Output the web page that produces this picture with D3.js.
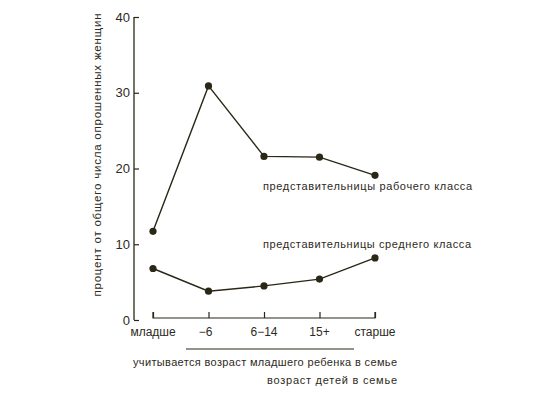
<!DOCTYPE html>
<html>
<head>
<meta charset="utf-8">
<script src="https://cdn.jsdelivr.net/npm/d3@7"></script>
<style>
  body { margin: 0; background: #fff; }
  text { font-family: "Liberation Sans", Arial, sans-serif; fill: #2e2a22; }
</style>
</head>
<body>
<div id="chart"></div>
<script>
var ages = ["младше", "\u22126", "6\u221214", "15+", "старше"];
var workingClass = [11.7, 30.9, 21.6, 21.5, 19.1];
var middleClass = [6.8, 3.8, 4.5, 5.4, 8.2];
var yTicks = [0, 10, 20, 30, 40];

var w = 554;
var h = 401;
var ink = "#2b2716";

var svg = d3.select("#chart").append("svg")
  .attr("width", w)
  .attr("height", h);

var x = d3.scalePoint()
  .domain(ages)
  .range([153, 375]);

var y = d3.scaleLinear()
  .domain([0, 40])
  .range([320, 17]);

// y axis
var yAxis = svg.append("g")
  .attr("transform", "translate(134,0)")
  .call(d3.axisLeft(y).tickValues(yTicks).tickSize(-5).tickPadding(3));
yAxis.select(".domain").remove();
yAxis.selectAll("line").attr("stroke", ink).attr("stroke-width", 1.2);
yAxis.selectAll("text")
  .attr("font-size", 13)
  .attr("x", -4)
  .style("font-family", "Liberation Sans, Arial, sans-serif")
  .style("fill", "#2e2a22");
yAxis.append("line")
  .attr("x1", 0).attr("x2", 0)
  .attr("y1", y(40)).attr("y2", y(0))
  .attr("stroke", ink).attr("stroke-width", 1.3);

// x axis
var xAxis = svg.append("g")
  .attr("transform", "translate(0,318)")
  .call(d3.axisTop(x).tickSize(6).tickFormat(""));
xAxis.select(".domain").attr("stroke", ink).attr("stroke-width", 1.2)
  .attr("d", "M" + x(ages[0]) + ",-6V0H" + x(ages[ages.length - 1]) + "V-6");
xAxis.selectAll("line").attr("stroke", ink).attr("stroke-width", 1.2);

svg.selectAll(".xlabel")
  .data(ages)
  .enter().append("text")
  .attr("class", "xlabel")
  .attr("x", function(d) { return x(d) + (d === "\u22126" ? -3 : 0); })
  .attr("y", 336)
  .attr("text-anchor", "middle")
  .attr("font-size", 12)
  .text(function(d) { return d; });

// series
var line = d3.line()
  .x(function(d, i) { return x(ages[i]); })
  .y(function(d) { return y(d); });

[workingClass, middleClass].forEach(function(series) {
  svg.append("path")
    .datum(series)
    .attr("d", line)
    .attr("fill", "none")
    .attr("stroke", ink)
    .attr("stroke-width", 1.4);
  svg.selectAll(null)
    .data(series)
    .enter().append("circle")
    .attr("cx", function(d, i) { return x(ages[i]); })
    .attr("cy", function(d) { return y(d); })
    .attr("r", 3.6)
    .attr("fill", ink);
});

// series labels
svg.append("text")
  .attr("x", 263).attr("y", 190)
  .attr("font-size", 11)
  .attr("textLength", 209).attr("lengthAdjust", "spacing")
  .text("представительницы рабочего класса");

svg.append("text")
  .attr("x", 263).attr("y", 248)
  .attr("font-size", 11)
  .attr("textLength", 208).attr("lengthAdjust", "spacing")
  .text("представительницы среднего класса");

// y title
svg.append("text")
  .attr("transform", "translate(101,155) rotate(-90)")
  .attr("text-anchor", "middle")
  .attr("font-size", 11.5)
  .attr("textLength", 283).attr("lengthAdjust", "spacing")
  .text("процент от общего числа опрошенных женщин");

// x titles
svg.append("line")
  .attr("x1", 186).attr("x2", 354)
  .attr("y1", 349).attr("y2", 349)
  .attr("stroke", ink).attr("stroke-width", 1.2);

svg.append("text")
  .attr("x", 133).attr("y", 366)
  .attr("font-size", 11)
  .attr("textLength", 264).attr("lengthAdjust", "spacing")
  .text("учитывается возраст младшего ребенка в семье");

svg.append("text")
  .attr("x", 267).attr("y", 384)
  .attr("font-size", 11)
  .attr("textLength", 130).attr("lengthAdjust", "spacing")
  .text("возраст детей в семье");
</script>
</body>
</html>
